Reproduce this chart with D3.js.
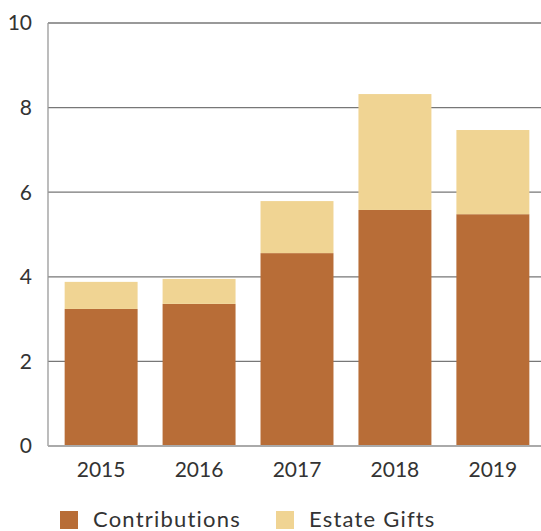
<!DOCTYPE html>
<html><head><meta charset="utf-8">
<script src="https://cdn.jsdelivr.net/npm/d3@7"></script>
<style>body{margin:0;background:#fff}svg{display:block}text{font-family:"Lato",sans-serif;fill:#333}</style>
</head><body>
<svg id="c" width="541" height="531"></svg>
<script>
const years = ["2015","2016","2017","2018","2019"];
const contributions = [3.24, 3.36, 4.56, 5.58, 5.48];
const estateGifts = [0.64, 0.59, 1.23, 2.74, 1.99];
const yTicks = [0, 2, 4, 6, 8, 10];
const seriesNames = ["Contributions", "Estate Gifts"];
const colors = ["#B86D37", "#F0D493"];

const svg = d3.select("#c");
const x = d3.scaleBand().domain(years).range([48, 546]).paddingInner(0.255).paddingOuter(0.17);
const y = d3.scaleLinear().domain([0, 10]).range([446, 23]);

// grid
svg.append("g").selectAll("line").data(yTicks.filter(d => d > 0)).join("line")
  .attr("x1", 48).attr("x2", 541).attr("y1", d => y(d)).attr("y2", d => y(d))
  .attr("stroke", "#777").attr("stroke-width", 1.3);

const data = years.map((yr, i) => ({year: yr, Contributions: contributions[i], "Estate Gifts": estateGifts[i]}));
const stack = d3.stack().keys(seriesNames)(data);
svg.append("g").selectAll("g").data(stack).join("g").attr("fill", (d, i) => colors[i])
  .selectAll("rect").data(d => d).join("rect")
  .attr("x", d => x(d.data.year)).attr("width", x.bandwidth())
  .attr("y", d => y(d[1])).attr("height", d => y(d[0]) - y(d[1]));

// axes lines
svg.append("line").attr("x1", 48).attr("x2", 48).attr("y1", y(10)).attr("y2", y(0)).attr("stroke", "#999").attr("stroke-width", 1.3);
svg.append("line").attr("x1", 48).attr("x2", 541).attr("y1", y(0)).attr("y2", y(0)).attr("stroke", "#aaa").attr("stroke-width", 2);

// y labels
svg.append("g").selectAll("text").data(yTicks).join("text")
  .attr("x", 32).attr("y", d => y(d)).attr("dy", "0.35em").attr("text-anchor", "end")
  .style("font-size", "21px").text(d => d);

// x labels
svg.append("g").selectAll("text").data(years).join("text")
  .attr("x", d => x(d) + x.bandwidth() / 2).attr("y", 477).attr("text-anchor", "middle")
  .style("font-size", "21px").text(d => d);

// legend
const legX = [60, 276];
const lg = svg.append("g").selectAll("g").data(seriesNames).join("g")
  .attr("transform", (d, i) => `translate(${legX[i]},511)`);
lg.append("rect").attr("width", 18).attr("height", 18).attr("fill", (d, i) => colors[i]);
lg.append("text").attr("x", 33).attr("y", 16).style("font-size", "22px").style("letter-spacing", "1.2px").text(d => d);
</script>
</body></html>
